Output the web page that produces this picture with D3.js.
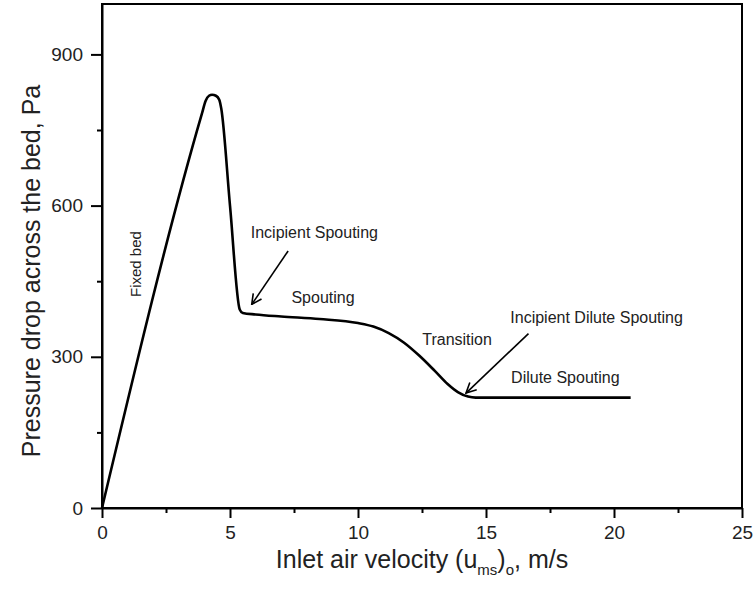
<!DOCTYPE html>
<html lang="en">
<head>
    <meta charset="UTF-8">
    <title>Pressure drop vs inlet air velocity</title>
    <script src="https://d3js.org/d3.v7.min.js"></script>
    <style>
        body { margin: 0; background: #fff; }
        svg { font-family: "Liberation Sans", Arial, sans-serif; }
        .curve { fill: none; stroke: #000; stroke-width: 2.6px; stroke-linejoin: round; }
        .frame { fill: none; stroke: #000; stroke-width: 2px; }
        .axis path { stroke: #000; stroke-width: 2px; }
        .axis line { stroke: #000; stroke-width: 2px; }
        .axis text { font-size: 19px; fill: #222; }
        .note { font-size: 16px; fill: #222; }
        .arrow { stroke: #000; stroke-width: 1.6px; fill: none; }
    </style>
</head>
<body>
    <script>
        // curve (m/s, Pa)
        const velocity = [0, 3.9, 4.05, 4.18, 4.3, 4.45, 4.58, 4.66, 5.0, 5.38, 5.5, 6.0, 7.0, 8.5, 10.0, 10.6, 11.2, 11.8, 12.4, 13.0, 13.5, 13.9, 14.3, 14.6, 17.0, 20.65];
        const pressure = [0, 782, 808, 818, 820, 818, 810, 792, 600, 394, 387, 384, 380, 375, 367, 360, 347, 328, 302, 272, 246, 230, 221, 219, 219, 219];

        const xMajor = [0, 5, 10, 15, 20, 25];
        const xMinor = [2.5, 7.5, 12.5, 17.5, 22.5];
        const yMajor = [0, 300, 600, 900];
        const yMinor = [150, 450, 750];

        const noteText = ["Fixed bed", "Incipient Spouting", "Spouting", "Transition", "Incipient Dilute Spouting", "Dilute Spouting"];
        const noteU = [1.53, 5.81, 7.40, 12.51, 15.95, 15.98];
        const noteP = [484, 535, 406, 323, 367, 248];

        const arrowFromU = [7.27, 16.66], arrowFromP = [510, 346];
        const arrowToU = [5.85, 14.22], arrowToP = [404, 228];

        const margin = { top: 4, right: 14, bottom: 88, left: 102 },
              width = 756 - margin.left - margin.right,
              height = 596 - margin.top - margin.bottom;

        const svg = d3.select("body").append("svg")
            .attr("width", 756)
            .attr("height", 596);

        svg.append("defs").append("marker")
            .attr("id", "head")
            .attr("viewBox", "0 0 12 12")
            .attr("refX", 11).attr("refY", 6)
            .attr("markerWidth", 12).attr("markerHeight", 12)
            .attr("markerUnits", "userSpaceOnUse")
            .attr("orient", "auto")
          .append("path")
            .attr("d", "M1,1 L11,6 L1,11")
            .attr("fill", "none")
            .attr("stroke", "#000")
            .attr("stroke-width", 1.6);

        const g = svg.append("g")
            .attr("transform", `translate(${margin.left},${margin.top})`);

        const x = d3.scaleLinear().domain([0, 25]).range([0, width]);
        const y = d3.scaleLinear().domain([0, 1000]).range([height, 0]);

        // minor ticks first, then majors with labels
        g.append("g").attr("class", "axis")
            .attr("transform", `translate(0,${height})`)
            .call(d3.axisBottom(x).tickValues(xMinor).tickSize(5).tickFormat(""))
            .call(a => a.select(".domain").remove());
        g.append("g").attr("class", "axis")
            .attr("transform", `translate(0,${height})`)
            .call(d3.axisBottom(x).tickValues(xMajor).tickSize(10).tickSizeOuter(0).tickPadding(8).tickFormat(d3.format("d")));

        g.append("g").attr("class", "axis")
            .call(d3.axisLeft(y).tickValues(yMinor).tickSize(5).tickFormat(""))
            .call(a => a.select(".domain").remove());
        g.append("g").attr("class", "axis")
            .call(d3.axisLeft(y).tickValues(yMajor).tickSize(11).tickSizeOuter(0).tickPadding(8).tickFormat(d3.format("d")));

        g.append("rect").attr("class", "frame")
            .attr("x", 0).attr("y", 0)
            .attr("width", width).attr("height", height);

        const line = d3.line()
            .x((d, i) => x(velocity[i]))
            .y((d, i) => y(pressure[i]))
            .curve(d3.curveMonotoneX);

        g.append("path").attr("class", "curve")
            .attr("d", line(velocity));

        // annotations
        noteText.forEach((t, i) => {
            const tx = g.append("text").attr("class", "note").text(t);
            if (i === 0) {
                tx.attr("transform", `translate(${x(noteU[i])},${y(noteP[i])}) rotate(-90)`)
                  .attr("text-anchor", "middle")
                  .style("font-size", "15px");
            } else {
                tx.attr("x", x(noteU[i])).attr("y", y(noteP[i]));
            }
        });

        arrowFromU.forEach((u, i) => {
            g.append("line").attr("class", "arrow")
                .attr("x1", x(u)).attr("y1", y(arrowFromP[i]))
                .attr("x2", x(arrowToU[i])).attr("y2", y(arrowToP[i]))
                .attr("marker-end", "url(#head)");
        });

        // axis titles
        const xt = svg.append("text")
            .attr("x", margin.left + width / 2)
            .attr("y", 568)
            .attr("text-anchor", "middle")
            .style("font-size", "25px")
            .style("fill", "#222");
        xt.append("tspan").text("Inlet air velocity (u");
        xt.append("tspan").text("ms").attr("dy", 7).style("font-size", "15px");
        xt.append("tspan").text(")").attr("dy", -7);
        xt.append("tspan").text("o").attr("dy", 7).style("font-size", "15px");
        xt.append("tspan").text(", m/s").attr("dy", -7);

        svg.append("text")
            .attr("transform", "translate(40,271) rotate(-90)")
            .attr("text-anchor", "middle")
            .style("font-size", "25px")
            .style("fill", "#222")
            .text("Pressure drop across the bed, Pa");
    </script>
</body>
</html>
